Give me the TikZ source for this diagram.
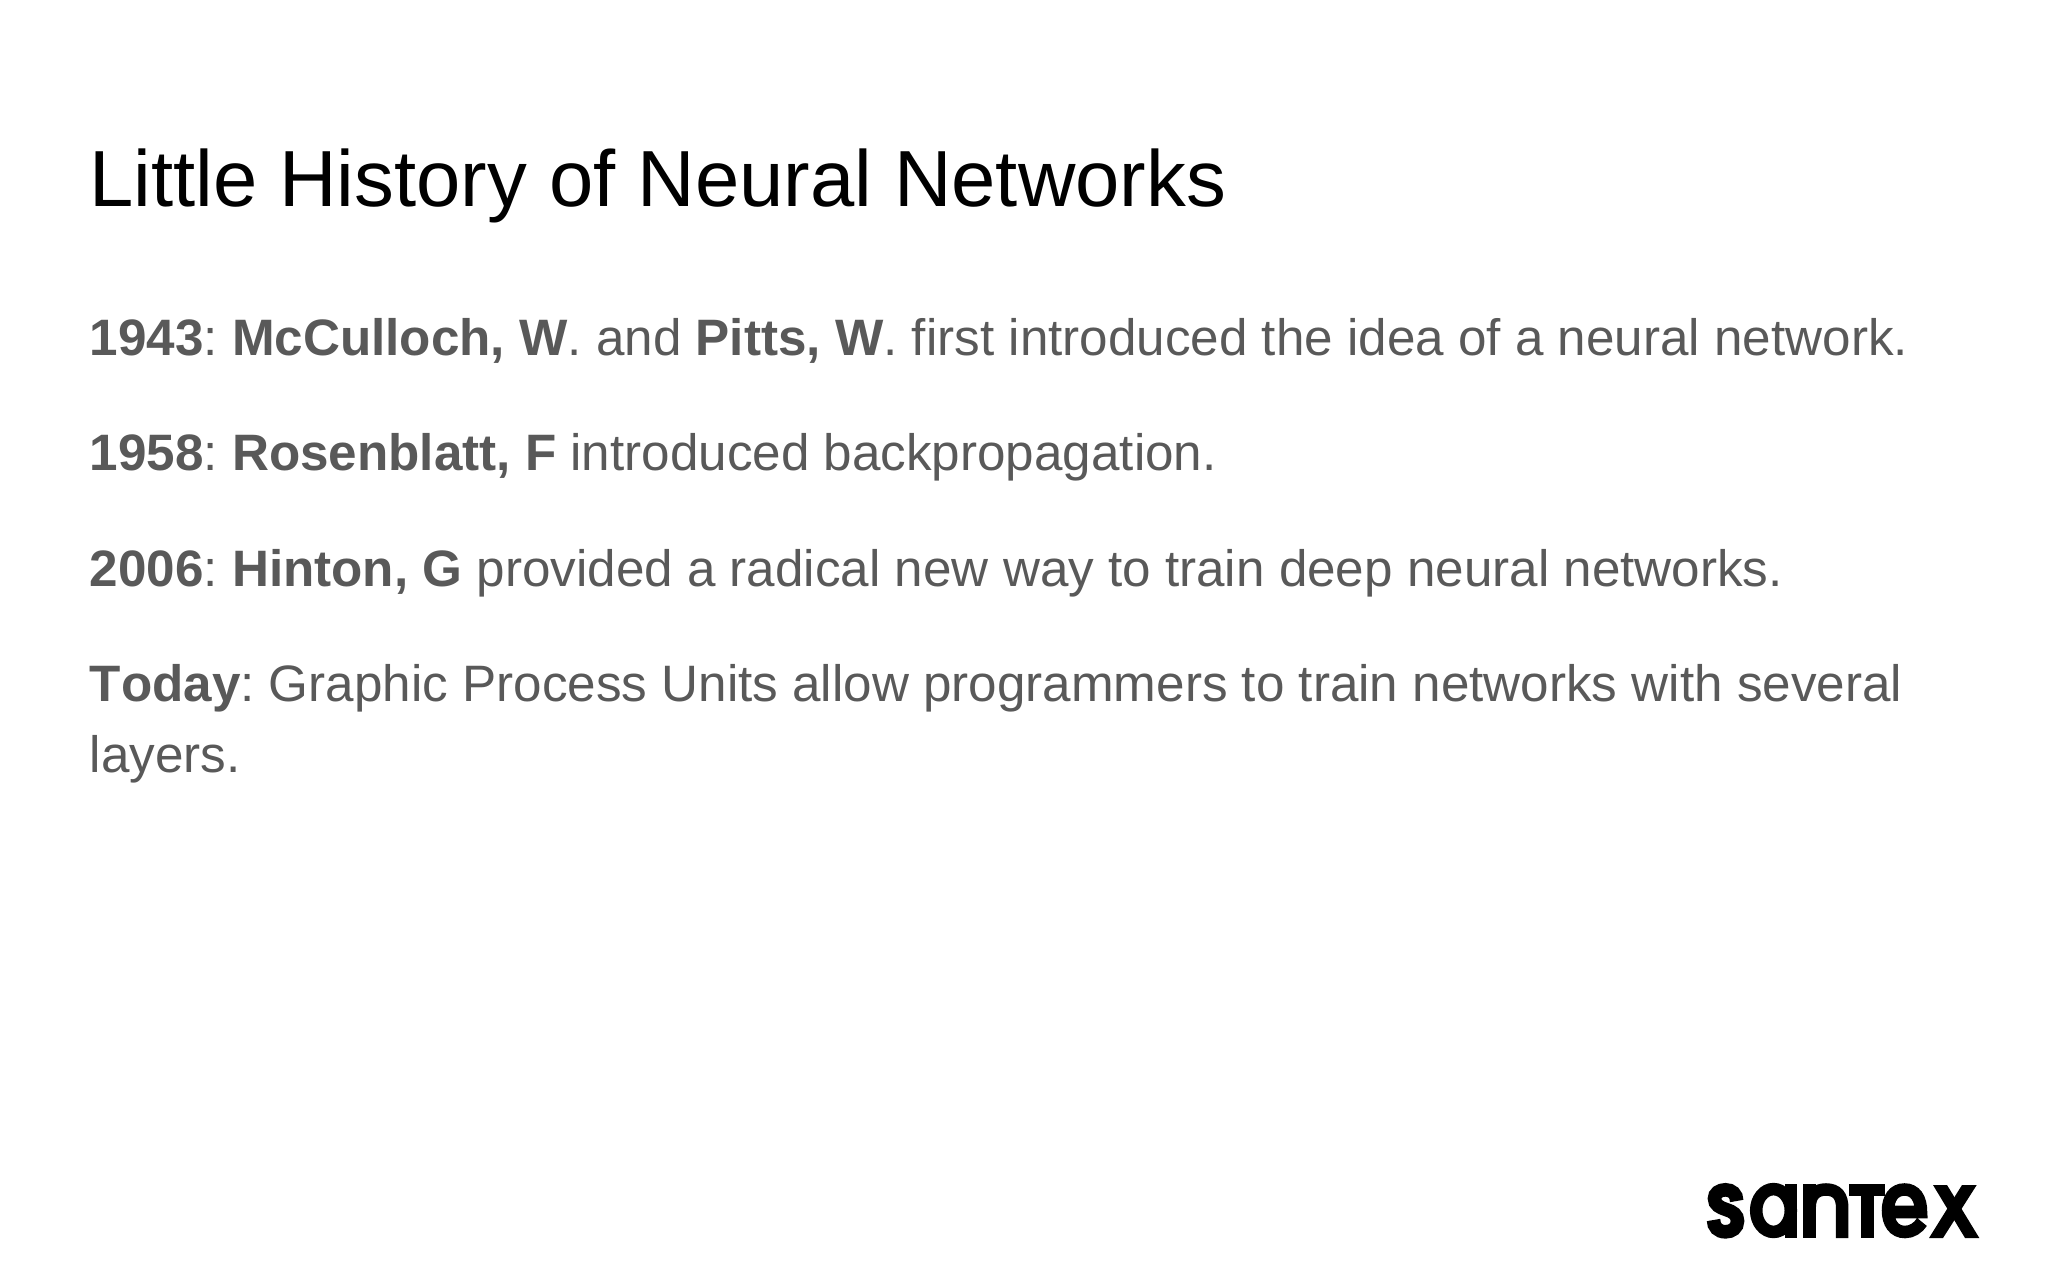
\documentclass[tikz,border=0pt]{standalone}
\usepackage{fontspec}
\setmainfont{Liberation Sans}
\definecolor{bodygrey}{HTML}{595959}
\tikzset{
  px/.style={x=0.75pt,y=-0.75pt},
  heading/.style={anchor=base west,inner sep=0pt,font=\fontsize{59.7}{60}\selectfont,text=black},
  bodyline/.style={anchor=base west,inner sep=0pt,font=\fontsize{38.4}{39}\selectfont\frenchspacing,text=bodygrey},
  logostroke/.style={draw=black,line width=9.4pt,line cap=butt,line join=miter,fill=none}
}
\begin{document}
\begin{tikzpicture}[px]
\useasboundingbox (0,0) rectangle (2048,1280);
\fill[white] (0,0) rectangle (2048,1280);
\node[heading] (title) at (89,207) {Little History of Neural Networks};
\node[bodyline] (l1) at (89.5,355) {\textbf{1943}: \textbf{McCulloch, W}. and \textbf{Pitts, W}. first introduced the idea of a neural network.};
\node[bodyline] (l2) at (89.5,470.5) {\textbf{1958}: \textbf{Rosenblatt, F} introduced backpropagation.};
\node[bodyline] (l3) at (89.5,586) {\textbf{2006}: \textbf{Hinton, G} provided a radical new way to train deep neural networks.};
\node[bodyline] (l4) at (89.5,701.5) {\textbf{T\kern0pt oday}: Graphic Process Units allow programmers to train networks with several};
\node[bodyline] (l5) at (89.5,772.5) {layers.};
% logo: s
\draw[logostroke,line width=10.2pt] (1736.7,1201) .. controls (1736.7,1194) and (1732,1189.8) .. (1725.5,1189.8)
  .. controls (1719,1189.8) and (1714.5,1193.5) .. (1714.5,1198.5)
  .. controls (1714.5,1205) and (1720,1207.5) .. (1726,1209.5)
  .. controls (1733,1211.5) and (1737.5,1215) .. (1737.5,1221)
  .. controls (1737.5,1228) and (1732,1231.8) .. (1725.5,1231.8)
  .. controls (1718,1231.8) and (1713.5,1227) .. (1713.5,1220);
% a
\draw[logostroke] (1773.5,1210.5) ellipse[x radius=17.3,y radius=21.4];
\draw[logostroke] (1791,1184) -- (1791,1238);
% n
\draw[logostroke] (1809.6,1184) -- (1809.6,1238);
\draw[logostroke] (1809.6,1208) .. controls (1809.6,1195) and (1816,1189.5) .. (1826,1189.5)
  .. controls (1837,1189.5) and (1842.2,1196) .. (1842.2,1208) -- (1842.2,1238);
% T
\draw[logostroke] (1849.3,1190) -- (1885,1190);
\draw[logostroke] (1867.3,1190) -- (1867.3,1238);
% e
\draw[logostroke] (1888,1212) -- (1921,1212) .. controls (1921,1198) and (1915,1189.5) .. (1904.5,1189.5)
  .. controls (1894,1189.5) and (1888,1198) .. (1888,1210.5)
  .. controls (1888,1223) and (1894,1232) .. (1905,1232)
  .. controls (1912,1232) and (1918,1228) .. (1922,1222);
% x
\fill[black] (1933,1185) -- (1947,1185) -- (1979.3,1238) -- (1965,1238) -- cycle;
\fill[black] (1976.7,1185) -- (1962,1185) -- (1929,1238) -- (1943,1238) -- cycle;
\end{tikzpicture}
\end{document}
